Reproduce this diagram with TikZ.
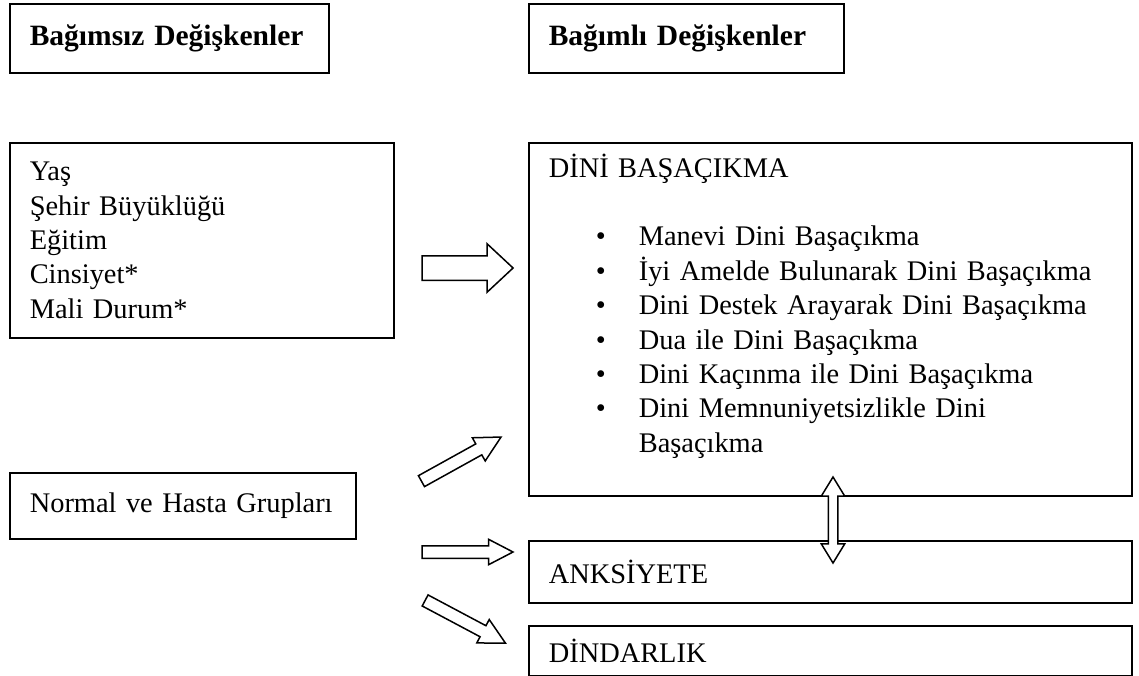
\documentclass[tikz,border=0pt]{standalone}
\usepackage{fontspec}
\setmainfont{Liberation Serif}
\usepackage{tikz}
\usetikzlibrary{shapes.arrows, positioning}

\begin{document}
\begin{tikzpicture}
  [
    x=1pt, y=-1pt,
    font=\fontsize{28.4}{34.4}\selectfont,
    Box/.style={rectangle, draw=black, line width=1.6pt, anchor=north west, align=left, inner xsep=20pt, inner ysep=0pt},
    Head/.style={Box, minimum height=69pt, font=\fontsize{29.5}{34.4}\selectfont\bfseries},
    Arrow/.style={single arrow, draw=black, line width=1.5pt, fill=white, inner xsep=0pt, inner ysep=5.5pt, minimum height=91pt, minimum width=25pt, single arrow head extend=7pt, single arrow tip angle=55},
    Big/.style={Arrow, inner ysep=11.5pt, minimum width=47pt, single arrow head extend=12pt, single arrow tip angle=86},
    Both/.style={double arrow, draw=black, line width=1.5pt, fill=white, inner xsep=0pt, inner ysep=4pt, minimum height=86pt, minimum width=22pt, double arrow head extend=7pt, double arrow tip angle=63}
  ]
  \useasboundingbox (0,0) rectangle (1139,676);

  % Nodes
  \node[Head, text width=279pt] (v0) at (9,3) {Bağımsız Değişkenler};
  \node[Head, text width=275pt] (v1) at (528,3) {Bağımlı Değişkenler};
  \node[Box, text width=344pt, minimum height=195pt] (v2) at (9,142)
    {Yaş\\ Şehir Büyüklüğü\\ Eğitim\\ Cinsiyet*\\ Mali Durum*};
  \node[Box, text width=563pt, minimum height=353pt] (v3) at (528,142)
    {DİNİ BAŞAÇIKMA\\[34.4pt]
     \hspace*{47pt}\makebox[43pt][l]{•}Manevi Dini Başaçıkma\\
     \hspace*{47pt}\makebox[43pt][l]{•}İyi Amelde Bulunarak Dini Başaçıkma\\
     \hspace*{47pt}\makebox[43pt][l]{•}Dini Destek Arayarak Dini Başaçıkma\\
     \hspace*{47pt}\makebox[43pt][l]{•}Dua ile Dini Başaçıkma\\
     \hspace*{47pt}\makebox[43pt][l]{•}Dini Kaçınma ile Dini Başaçıkma\\
     \hspace*{47pt}\makebox[43pt][l]{•}Dini Memnuniyetsizlikle Dini\\
     \hspace*{90pt}Başaçıkma\\[-12pt] \strut};
  \node[Box, text width=306pt, minimum height=66pt] (v4) at (9,472) {\mbox{Normal ve Hasta Grupları}};
  \node[Box, text width=563pt, minimum height=62pt] (v5) at (528,540) {ANKSİYETE};
  \node[Box, text width=563pt, minimum height=50pt] (v6) at (528,625) {DİNDARLIK};

  % Arrows
  \node[Big] (a0) at (461,268) {};
  \node[Arrow, rotate=29] (a1) at (456,462) {};
  \node[Arrow, inner ysep=5.5pt, minimum width=24pt, single arrow head extend=6.5pt] (a2) at (461.5,552) {};
  \node[Arrow, rotate=-28] (a3) at (460,619) {};
  \node[Both, rotate=90] (a4) at (833,520) {};

\end{tikzpicture}
\end{document}
